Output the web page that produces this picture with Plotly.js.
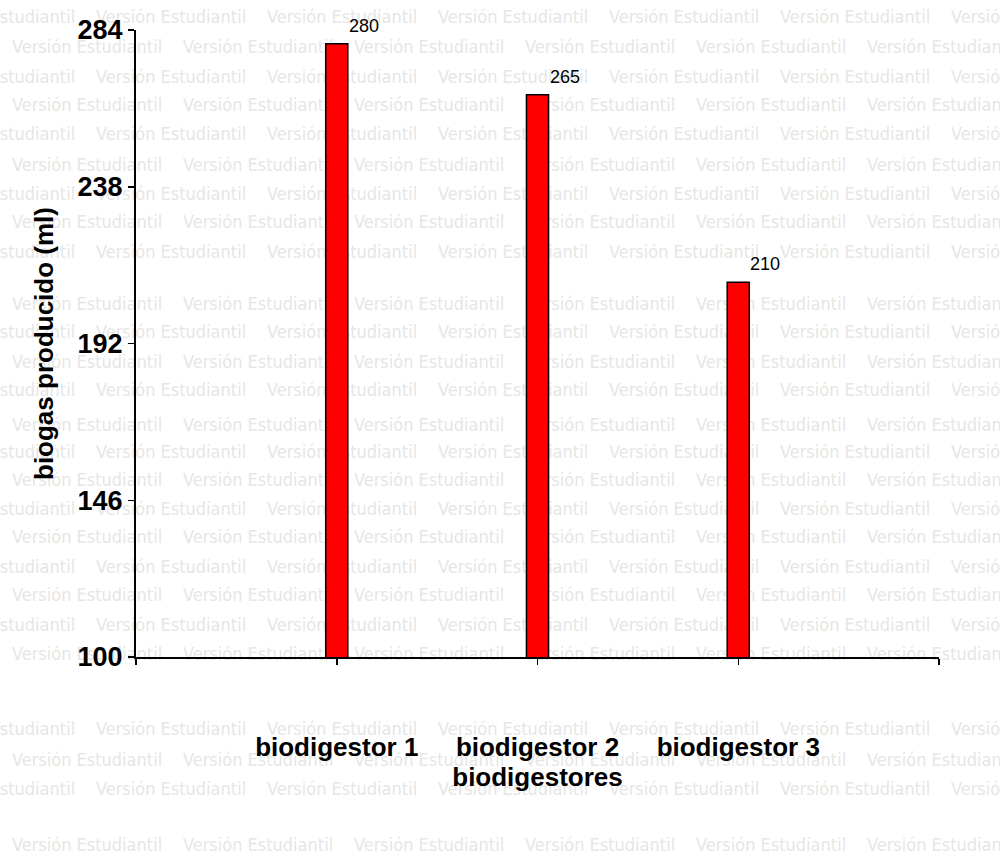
<!DOCTYPE html>
<html><head><meta charset="utf-8">
<script src="https://cdn.plot.ly/plotly-3.0.1.min.js"></script>
<style>html,body{margin:0;padding:0;background:#fff;} #chart{width:1000px;height:855px;}</style>
</head><body><div id="chart"></div>
<script>
const categories = ['biodigestor 1', 'biodigestor 2', 'biodigestor 3'];
const biogasValues = [280, 265, 210];
const yTickValues = [284, 238, 192, 146, 100];
const yAxisTitle = 'biogas producido (ml)';
const xAxisTitle = 'biodigestores';
const watermarkText = 'Versión Estudiantil';
const watermarkRowsY = [15,45,75,103,132,163,192,220,250,302,330,360,388,423,450,478,507,535,565,593,623,652,727,758,787,843];

const W = 1000, H = 855;
const margin = {l:136, r:61, t:30, b:198};
const plotW = W - margin.l - margin.r, plotH = H - margin.t - margin.b;
function pxToPaperX(px){ return (px - margin.l) / plotW; }
function pxToPaperY(py){ return (H - margin.b - py) / plotH; }

const shapes = [];
watermarkRowsY.forEach((ry, i) => {
  const start = (i % 2 === 0) ? -78 : 9;
  for (let x = start; x < W; x += 171) {
    shapes.push({
      type: 'rect', xref: 'paper', yref: 'paper', layer: 'below',
      x0: pxToPaperX(x), x1: pxToPaperX(x + 150),
      y0: pxToPaperY(ry + 8), y1: pxToPaperY(ry - 8),
      line: {width: 0}, fillcolor: 'rgba(0,0,0,0)',
      label: {text: watermarkText, textposition: 'middle left', xanchor: 'left', yanchor: 'middle', padding: 0,
        font: {family: 'DejaVu Sans Condensed, DejaVu Sans, sans-serif', size: 18, color: '#e6e6e6'}}
    });
  }
});

const xPos = categories.map((c, i) => i + 1);
const mainFont = 'Liberation Sans, Arial, sans-serif';

const trace = {
  type: 'bar', x: xPos, y: biogasValues, width: 0.11,
  marker: {color: '#ff0000', line: {color: '#000000', width: 1.5}},
  hoverinfo: 'skip'
};

const annotations = biogasValues.map((v, i) => ({
  x: xPos[i], y: v, xref: 'x', yref: 'y', text: String(v), showarrow: false,
  xanchor: 'left', yanchor: 'bottom', xshift: 10, yshift: 6,
  font: {family: mainFont, size: 18, color: '#000'}
}));

const layout = {
  width: W, height: H, margin: margin,
  paper_bgcolor: '#ffffff', plot_bgcolor: 'rgba(0,0,0,0)',
  showlegend: false,
  font: {family: mainFont, color: '#000'},
  xaxis: {
    range: [0, categories.length + 1],
    tickmode: 'array',
    tickvals: [0].concat(xPos, [categories.length + 1]),
    ticktext: [''].concat(categories, ['']),
    ticks: 'outside', ticklen: 6, tickwidth: 1.5, tickcolor: '#000',
    showline: true, linecolor: '#000', linewidth: 2,
    showgrid: false, zeroline: false,
    tickfont: {family: mainFont, size: 26, weight: 'bold', color: '#000'},
    ticklabelstandoff: 60,
    title: {text: xAxisTitle, font: {family: mainFont, size: 26, weight: 'bold', color: '#000'}, standoff: 4},
    fixedrange: true
  },
  yaxis: {
    range: [100, 284],
    tickmode: 'array', tickvals: yTickValues, ticktext: yTickValues.map(String),
    ticks: 'outside', ticklen: 6, tickwidth: 1.5, tickcolor: '#000',
    showline: true, linecolor: '#000', linewidth: 2,
    showgrid: false, zeroline: false,
    tickfont: {family: mainFont, size: 27, weight: 'bold', color: '#000'},
    title: {text: yAxisTitle, font: {family: mainFont, size: 26, weight: 'bold', color: '#000'}, standoff: 16},
    fixedrange: true
  },
  shapes: shapes,
  annotations: annotations
};

Plotly.newPlot('chart', [trace], layout, {displayModeBar: false, staticPlot: true});
</script>
</body></html>
